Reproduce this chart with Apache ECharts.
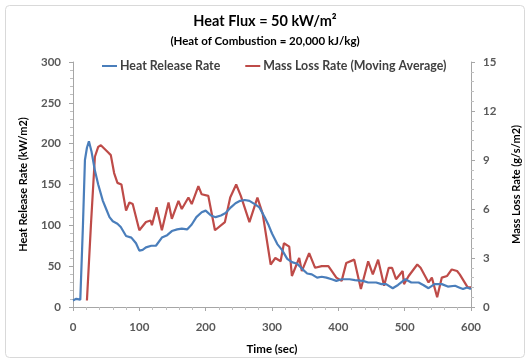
<!DOCTYPE html>
<html><head><meta charset="utf-8">
<script src="https://cdn.jsdelivr.net/npm/echarts@6/dist/echarts.min.js"></script>
<style>html,body{margin:0;padding:0;background:#fff}#c{width:530px;height:363px}</style>
</head><body><div id="c"></div>
<script>
const titleText = 'Heat Flux = 50 kW/m\u00B2';
const subtitleText = '(Heat of Combustion = 20,000 kJ/kg)';
const seriesNames = ['Heat Release Rate', 'Mass Loss Rate (Moving Average)'];
const xTicks = [0, 100, 200, 300, 400, 500, 600];
const hrrTime = [0,3,5,8,11,13,15,18,21,24,28,33,38,45,50,55,60,67,72,80,88,95,100,105,110,118,125,134,142,149,157,164,172,179,186,194,200,208,215,223,230,238,245,252,259,266,274,281,289,295,300,308,315,323,330,338,345,353,360,368,375,382,390,397,405,417,425,437,445,457,465,472,482,490,501,510,521,528,536,545,556,565,576,582,588,594,600];
const hrrValue = [8,9,10,11,9,9,100,180,195,203,190,167,150,130,120,110,105,102,98,87,85,78,69,70,73,75,75,85,88,93,95,96,95,101,110,116,118,112,110,112,115,122,127,130,131,130,126,122,110,100,90,77,70,59,55,53,47,41,40,36,37,36,34,32,34,34,33,32,30,30,28,28,23,27,34,30,30,27,23,28,28,25,26,24,22,24,22];
const mlrTime = [21,27,33,38,42,47,52,57,62,67,73,80,85,90,100,110,117,119,126,128,134,144,149,159,164,174,179,189,194,204,214,229,237,246,253,266,278,286,298,305,313,318,326,330,341,345,356,365,375,385,397,405,412,424,434,445,452,460,469,476,481,487,497,499,506,519,524,536,541,549,556,564,571,579,583,595,600];
const mlrValue = [0.4,5,9.2,9.8,9.9,9.7,9.5,9.3,8.2,7.6,7.5,5.9,6.4,6.3,4.7,5.2,5.3,5.0,6.1,6.2,4.7,6.4,5.4,6.5,6.0,6.7,6.3,7.4,6.9,6.8,4.7,5.2,6.7,7.5,6.8,5.2,6.7,5.7,2.6,3.0,2.8,3.9,3.7,1.9,3.0,2.2,3.3,2.4,2.5,2.5,1.8,1.6,2.7,2.9,1.1,2.8,2.0,2.9,1.3,2.4,2.4,1.7,2.2,1.4,1.9,2.6,2.4,1.5,1.8,0.6,1.8,1.9,2.3,2.2,2.0,1.2,1.2];

const FONT = 'Lato';
const hrrData = hrrTime.map((t, i) => [t, hrrValue[i]]);
const mlrData = mlrTime.map((t, i) => [t, mlrValue[i]]);
const axisLine = {show: true, lineStyle: {color: '#a6a6a6', width: 1}};
const tickLabel = {fontFamily: FONT, fontSize: 11.5, fontWeight: 'bold', color: '#595959'};
const chart = echarts.init(document.getElementById('c'));
chart.setOption({
  animation: false,
  backgroundColor: '#fff',
  graphic: [{type: 'rect', shape: {x: 5.5, y: 5.5, width: 519, height: 352, r: 4}, style: {fill: 'none', stroke: '#d9d9d9', lineWidth: 1}, silent: true, z: -1}],
  title: {
    text: titleText, subtext: subtitleText, left: 'center', top: 9, itemGap: 6,
    textStyle: {fontFamily: FONT, fontSize: 14.5, fontWeight: 'bold', color: '#000'},
    subtextStyle: {fontFamily: FONT, fontSize: 11.5, fontWeight: 'bold', color: '#000'}
  },
  legend: {
    left: 97, top: 55, itemWidth: 15, itemHeight: 2, itemGap: 25, icon: 'rect',
    textStyle: {fontFamily: FONT, fontSize: 12.4, fontWeight: 'bold', color: '#404040', padding: [0, 0, 0, -2]},
    data: seriesNames
  },
  grid: {left: 73, right: 54, top: 62, bottom: 56},
  xAxis: {
    type: 'value', min: 0, max: 600, interval: 100,
    name: 'Time (sec)', nameLocation: 'middle', nameGap: 36,
    nameTextStyle: {fontFamily: FONT, fontSize: 11.5, fontWeight: 'bold', color: '#000'},
    axisLine: axisLine, axisTick: {show: true, length: 4, lineStyle: {color: '#a6a6a6'}},
    minorTick: {show: true, splitNumber: 5, length: 3, lineStyle: {color: '#bfbfbf'}},
    splitLine: {show: false},
    axisLabel: Object.assign({margin: 14, formatter: v => xTicks.includes(v) ? String(v) : ''}, tickLabel)
  },
  yAxis: [{
    type: 'value', min: 0, max: 300, interval: 50, position: 'left',
    name: 'Heat Release Rate (kW/m2)', nameLocation: 'middle', nameGap: 44, nameRotate: 90,
    nameTextStyle: {fontFamily: FONT, fontSize: 11, fontWeight: 'bold', color: '#000'},
    axisLine: axisLine, axisTick: {show: true, length: 4, lineStyle: {color: '#a6a6a6'}},
    minorTick: {show: true, splitNumber: 5, length: 3, lineStyle: {color: '#bfbfbf'}},
    splitLine: {show: false},
    axisLabel: Object.assign({margin: 12}, tickLabel)
  }, {
    type: 'value', min: 0, max: 15, interval: 3, position: 'right',
    name: 'Mass Loss Rate (g/s/m2)', nameLocation: 'middle', nameGap: 40, nameRotate: 90,
    nameTextStyle: {fontFamily: FONT, fontSize: 11, fontWeight: 'bold', color: '#000'},
    axisLine: axisLine, axisTick: {show: true, length: 4, lineStyle: {color: '#a6a6a6'}},
    minorTick: {show: true, splitNumber: 5, length: 3, lineStyle: {color: '#bfbfbf'}},
    splitLine: {show: false},
    axisLabel: Object.assign({margin: 12}, tickLabel)
  }],
  series: [{
    name: seriesNames[0], type: 'line', yAxisIndex: 0, data: hrrData,
    showSymbol: false, symbol: 'none', color: '#4a7ebb',
    lineStyle: {width: 2.2, color: '#4a7ebb'}, z: 3
  }, {
    name: seriesNames[1], type: 'line', yAxisIndex: 1, data: mlrData,
    showSymbol: false, symbol: 'none', color: '#be4b48',
    lineStyle: {width: 2.2, color: '#be4b48'}, z: 2
  }]
});
</script></body></html>
